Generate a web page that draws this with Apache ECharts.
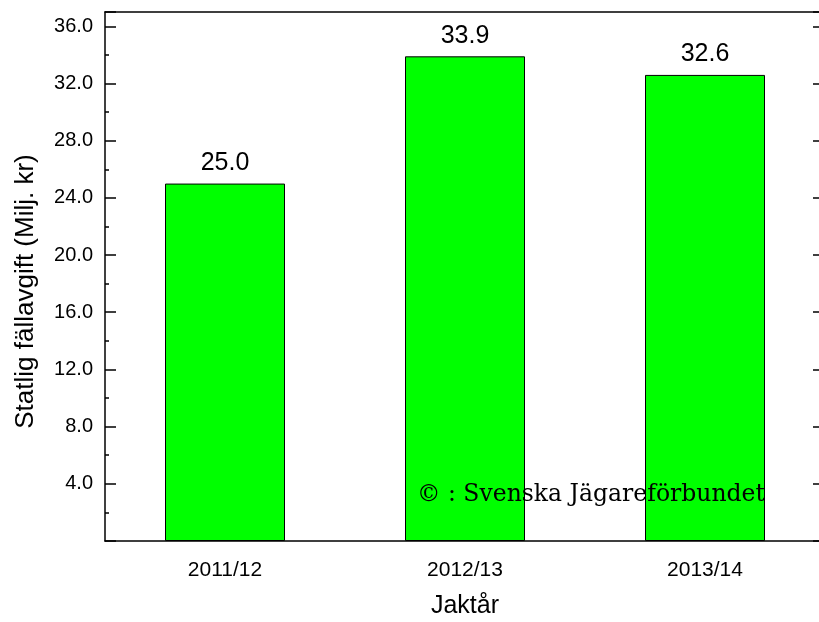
<!DOCTYPE html>
<html>
<head>
<meta charset="utf-8">
<script src="https://cdn.jsdelivr.net/npm/echarts@6/dist/echarts.min.js"></script>
<style>
  html, body { margin: 0; padding: 0; background: #fff; }
</style>
</head>
<body>
<div id="main" style="width: 819px;height:622px;"></div>
<script>
// data
var seasons = ['2011/12', '2012/13', '2013/14'];
var fees = [25.0, 33.9, 32.6];
var yMin = 0, yMax = 37, yStep = 4;

var myChart = echarts.init(document.getElementById('main'));

var font = 'Liberation Sans, Arial, sans-serif';
var line = { color: '#000', width: 1.5 };

function yLabel(v) {
  if (v === 0 || v % yStep !== 0) return '';
  return v.toFixed(1);
}

var option = {
  animation: false,
  backgroundColor: '#fff',
  textStyle: { fontFamily: font, color: '#000' },
  // plot runs a little past the right edge of the picture
  grid: { left: 105, top: 12, width: 720, bottom: 81, containLabel: false, outerBoundsMode: 'none' },
  xAxis: [
    {
      type: 'category',
      data: seasons,
      position: 'bottom',
      name: 'Jaktår',
      nameLocation: 'middle',
      nameGap: 53,
      nameTextStyle: { fontSize: 25, color: '#000', fontFamily: font },
      axisLine: { lineStyle: line },
      axisTick: { alignWithLabel: true, inside: false, length: 11, lineStyle: line },
      axisLabel: { margin: 19, fontSize: 21, color: '#000', fontFamily: font }
    },
    {
      type: 'category',
      data: seasons,
      position: 'bottom',
      axisLine: { show: false },
      axisTick: { alignWithLabel: false, length: 3, lineStyle: line },
      axisLabel: { show: false }
    },
    {
      type: 'category',
      data: seasons,
      position: 'top',
      axisLine: { lineStyle: line },
      axisTick: { inside: true, length: 2, lineStyle: line },
      axisLabel: { show: false }
    }
  ],
  yAxis: [
    {
      type: 'value',
      position: 'left',
      min: yMin,
      max: yMax,
      interval: yStep,
      name: 'Statlig fällavgift (Milj. kr)',
      nameLocation: 'middle',
      nameGap: 66,
      nameTextStyle: { fontSize: 26, color: '#000', fontFamily: font, padding: [0, 30, 0, 0] },
      axisLine: { show: true, lineStyle: line },
      axisTick: { show: true, inside: true, length: 11, lineStyle: line },
      minorTick: { show: true, splitNumber: 2, length: 4, lineStyle: line },
      axisLabel: { margin: 12, fontSize: 20, color: '#000', fontFamily: font, formatter: yLabel },
      splitLine: { show: false }
    },
    {
      type: 'value',
      position: 'right',
      min: yMin,
      max: yMax,
      interval: yStep,
      axisLine: { show: true, lineStyle: line },
      axisTick: { show: true, inside: true, length: 12, lineStyle: line },
      minorTick: { show: true, splitNumber: 2, length: 4, lineStyle: line },
      axisLabel: { show: false },
      splitLine: { show: false }
    }
  ],
  series: [
    {
      name: 'fee',
      type: 'bar',
      data: fees,
      barWidth: '50%',
      itemStyle: { color: '#00ff00', borderColor: '#000', borderWidth: 1 },
      label: {
        show: true,
        position: 'top',
        distance: 8,
        fontSize: 25,
        color: '#000',
        fontFamily: font,
        formatter: function (p) { return p.value.toFixed(1); }
      }
    }
  ],
  graphic: [
    {
      type: 'text',
      z: 100,
      left: 417,
      top: 483,
      style: {
        text: '© : Svenska Jägareförbundet',
        font: '23.5px "DejaVu Serif", serif',
        fill: '#000'
      }
    }
  ]
};

myChart.setOption(option);
</script>
</body>
</html>
